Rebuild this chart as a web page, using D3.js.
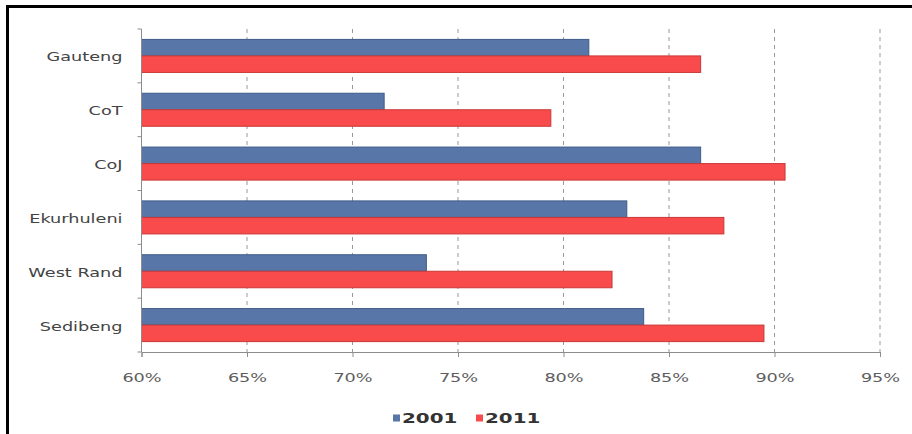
<!DOCTYPE html>
<html>
<head>
<meta charset="utf-8">
<script src="https://cdn.jsdelivr.net/npm/d3@7/dist/d3.min.js"></script>
<style>
  html, body { margin: 0; padding: 0; background: #fff; }
  svg { display: block; }
  text { font-family: "DejaVu Sans", Verdana, sans-serif; }
</style>
</head>
<body>
<svg id="chart" width="912" height="434"></svg>
<script>
// Share of households per region, 2001 vs 2011 (percent)
const categories = ["Gauteng", "CoT", "CoJ", "Ekurhuleni", "West Rand", "Sedibeng"];
const seriesNames = ["2001", "2011"];
const values2001 = [81.2, 71.5, 86.5, 83.0, 73.5, 83.8];
const values2011 = [86.5, 79.4, 90.5, 87.6, 82.3, 89.5];
const tickValues = [60, 65, 70, 75, 80, 85, 90, 95];
const tickLabels = ["60%", "65%", "70%", "75%", "80%", "85%", "90%", "95%"];
const seriesColors = ["#5877a8", "#f94b4b"];
const seriesStroke = ["#3f5b88", "#c93838"];

const rows = categories.map((c, i) => ({ name: c, vals: [values2001[i], values2011[i]] }));

const svg = d3.select("#chart");
const W = 912, H = 434;
const plot = { left: 141.5, right: 880, top: 29, bottom: 352 };
const stretch = 1.36;

svg.append("rect").attr("width", W).attr("height", H).attr("fill", "#fff");

const x = d3.scaleLinear().domain([60, 95]).range([plot.left, plot.right]);
const y0 = d3.scaleBand().domain(categories).range([plot.top, plot.bottom]).padding(0);
const y1 = d3.scaleBand().domain(seriesNames).range([0, y0.bandwidth()])
  .paddingInner(0).paddingOuter(0.63);

// dashed vertical gridlines
svg.append("g").selectAll("line")
  .data(tickValues.slice(1))
  .join("line")
  .attr("x1", d => x(d)).attr("x2", d => x(d))
  .attr("y1", plot.top).attr("y2", plot.bottom)
  .attr("stroke", "#999").attr("stroke-width", 1)
  .attr("stroke-dasharray", "4,4");

// bars
const groups = svg.append("g").selectAll("g")
  .data(rows)
  .join("g")
  .attr("transform", d => `translate(0,${y0(d.name)})`);

groups.selectAll("rect")
  .data(d => d.vals.map((v, i) => ({ v, i })))
  .join("rect")
  .attr("x", x(60))
  .attr("y", d => y1(seriesNames[d.i]))
  .attr("width", d => x(d.v) - x(60))
  .attr("height", y1.bandwidth())
  .attr("fill", d => seriesColors[d.i])
  .attr("stroke", d => seriesStroke[d.i])
  .attr("stroke-width", 1);

// x axis
const xAxis = svg.append("g")
  .attr("transform", `translate(0,${plot.bottom})`)
  .call(d3.axisBottom(x).tickValues(tickValues)
    .tickFormat((d, i) => tickLabels[i]).tickSize(5).tickPadding(16));
xAxis.select(".domain").attr("stroke", "#8c8c8c");
xAxis.selectAll(".tick line").attr("stroke", "#8c8c8c");
xAxis.selectAll(".tick text")
  .attr("font-size", 13)
  .attr("fill", "#5e5e5e")
  .attr("font-family", "DejaVu Sans, Verdana, sans-serif")
  .attr("transform", `scale(${stretch},1)`);

// y axis
const yAxis = svg.append("g")
  .attr("transform", `translate(${plot.left},0)`)
  .call(d3.axisLeft(y0).tickSize(0).tickPadding(0));
yAxis.select(".domain").attr("stroke", "#8c8c8c").attr("d", `M0,${plot.top}V${plot.bottom}`);
yAxis.selectAll(".tick text")
  .attr("x", 0)
  .attr("dy", "0.42em")
  .attr("font-size", 13)
  .attr("fill", "#444")
  .attr("font-family", "DejaVu Sans, Verdana, sans-serif")
  .attr("transform", `translate(-19,0) scale(${stretch},1)`);

// small ticks at category boundaries
const bounds = categories.map(c => y0(c)).concat([plot.bottom]);
yAxis.append("g").selectAll("line")
  .data(bounds)
  .join("line")
  .attr("x1", -4).attr("x2", 0)
  .attr("y1", d => d).attr("y2", d => d)
  .attr("stroke", "#8c8c8c");

// legend
const legend = svg.append("g").attr("transform", "translate(393,418)");
const legendX = [0, 83];
seriesNames.forEach((s, i) => {
  const g = legend.append("g").attr("transform", `translate(${legendX[i]},0)`);
  g.append("rect").attr("x", 0).attr("y", -3.5).attr("width", 7).attr("height", 7)
    .attr("fill", seriesColors[i]);
  g.append("text")
    .attr("transform", `translate(9,0) scale(1.42,1)`)
    .attr("dy", "0.36em")
    .attr("font-size", 14)
    .attr("font-weight", "bold")
    .attr("fill", "#333")
    .text(s);
});

// frame lines on top and left edges
svg.append("path")
  .attr("d", `M7.5,${H}V6.5H${W}`)
  .attr("fill", "none")
  .attr("stroke", "#000")
  .attr("stroke-width", 3);
</script>
</body>
</html>
